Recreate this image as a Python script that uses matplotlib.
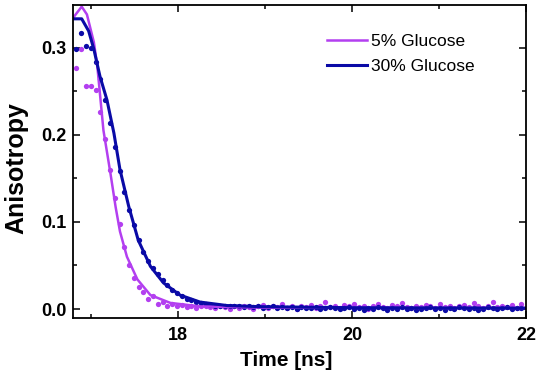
import numpy as np
import matplotlib
matplotlib.use("Agg")
import matplotlib.pyplot as plt
from matplotlib.ticker import MultipleLocator

plt.rcParams['font.family'] = ['Liberation Sans', 'DejaVu Sans']

# measured data (time grid of the detector channels)
t0 = 16.83
dt = 0.055

r_30 = [0.298, 0.317, 0.302, 0.300, 0.284, 0.264, 0.240, 0.213, 0.186, 0.158,
        0.134, 0.114, 0.096, 0.079, 0.066, 0.055, 0.047, 0.040, 0.033, 0.027,
        0.022, 0.018, 0.015, 0.012, 0.010, 0.008, 0.007, 0.006, 0.005, 0.004,
        0.004, 0.003, 0.003, 0.004, 0.003, 0.002, 0.003, 0.002, 0.003, 0.001,
        0.002, 0.003, 0.001, 0.002, 0.001, 0.002, 0.000, 0.002, 0.001, 0.001,
        0.002, 0.000, 0.001, 0.002, 0.001, 0.000, 0.001, 0.002, 0.000, 0.001,
        -0.001, 0.001, 0.000, 0.002, 0.001, -0.001, 0.001, 0.000, 0.002, 0.000,
        0.001, -0.001, 0.000, 0.001, 0.002, 0.000, 0.001, -0.001, 0.001, 0.000,
        0.002, 0.001, 0.000, 0.001, -0.001, 0.000, 0.002, 0.001, 0.000, 0.001,
        0.002, 0.000, 0.001, 0.001]

r_5 = [0.277, 0.298, 0.256, 0.256, 0.251, 0.226, 0.195, 0.160, 0.127, 0.098,
       0.071, 0.050, 0.036, 0.025, 0.020, 0.012, 0.015, 0.006, 0.008, 0.004,
       0.006, 0.003, 0.005, 0.002, 0.004, 0.001, 0.003, 0.004, 0.002, 0.001,
       0.003, 0.002, 0.000, 0.003, 0.001, 0.004, 0.002, 0.000, 0.003, 0.005,
       0.001, 0.003, 0.002, 0.006, 0.001, 0.004, 0.000, 0.003, 0.002, 0.005,
       0.001, 0.003, 0.008, 0.002, 0.004, 0.001, 0.005, 0.003, 0.006, 0.002,
       0.004, 0.000, 0.003, 0.006, 0.002, 0.001, 0.005, 0.003, 0.007, 0.002,
       0.001, 0.004, 0.002, 0.005, 0.003, 0.001, 0.006, 0.002, 0.004, 0.001,
       0.003, 0.005, 0.002, 0.007, 0.004, 0.001, 0.003, 0.008, 0.002, 0.004,
       0.002, 0.005, 0.001, 0.006]

# fitted curves
fit5_t = [16.79, 16.89, 16.95, 17.03, 17.07, 17.14, 17.22, 17.28, 17.33, 17.41,
          17.53, 17.68, 17.91, 18.25, 19.0, 22.0]
fit5_r = [0.334, 0.347, 0.338, 0.306, 0.278, 0.205, 0.156, 0.117, 0.089, 0.060,
          0.034, 0.016, 0.007, 0.003, 0.0015, 0.0012]
fit30_t = [16.79, 16.89, 16.97, 17.03, 17.10, 17.18, 17.26, 17.33, 17.43, 17.54,
           17.68, 17.83, 18.02, 18.25, 18.56, 18.94, 20.0, 22.0]
fit30_r = [0.333, 0.333, 0.319, 0.298, 0.267, 0.240, 0.202, 0.160, 0.118, 0.079,
           0.049, 0.030, 0.016, 0.008, 0.004, 0.0027, 0.0015, 0.001]

c5 = '#B33FF0'
c30 = '#0A0AA6'

t = t0 + dt * np.arange(len(r_30))

fig = plt.figure(figsize=(5.38, 3.75), dpi=100)
ax = fig.add_axes([0.1357, 0.152, 0.8423, 0.835])

ax.plot(t, r_5, 'o', color=c5, ms=3.8, mec='none')
ax.plot(t, r_30, 'o', color=c30, ms=3.8, mec='none')
ax.plot(fit5_t, fit5_r, color=c5, lw=1.8, label='5% Glucose')
ax.plot(fit30_t, fit30_r, color=c30, lw=2.2, label='30% Glucose')

ax.set_xlim(16.79, 22)
ax.set_ylim(-0.0103, 0.349)
ax.xaxis.set_major_locator(MultipleLocator(2))
ax.xaxis.set_minor_locator(MultipleLocator(1))
ax.yaxis.set_major_locator(MultipleLocator(0.1))
ax.yaxis.set_minor_locator(MultipleLocator(0.05))
ax.tick_params(which='both', direction='in', top=True, right=True, width=1.1)
ax.tick_params(which='major', length=5, labelsize=13)
ax.tick_params(axis='x', which='major', pad=6.5)
ax.tick_params(axis='y', which='major', pad=4.5)
ax.tick_params(which='minor', length=3)
for lab in ax.get_xticklabels() + ax.get_yticklabels():
    lab.set_fontweight('bold')
for s in ax.spines.values():
    s.set_linewidth(1.3)

ax.set_xlabel('Time [ns]', fontsize=15, fontweight='bold')
ax.xaxis.set_label_coords(0.470, -0.105)
ax.set_ylabel('Anisotropy', fontsize=18, fontweight='bold')
ax.yaxis.set_label_coords(-0.099, 0.479)

ax.legend(loc='upper left', bbox_to_anchor=(0.561, 0.907), frameon=False,
          fontsize=12.5, handlelength=2.3, handletextpad=0.2, labelspacing=0.55,
          borderpad=0, borderaxespad=0)

fig.savefig('out.png', dpi=100)
